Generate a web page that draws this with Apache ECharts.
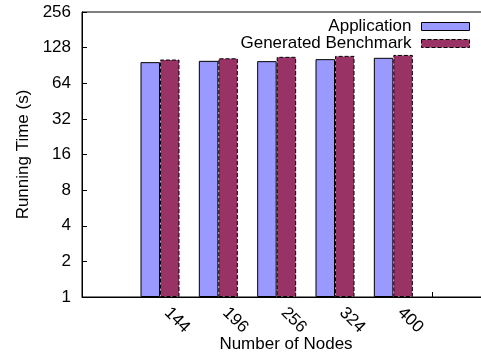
<!DOCTYPE html>
<html>
<head>
<meta charset="utf-8">
<script src="https://cdn.jsdelivr.net/npm/echarts@6/dist/echarts.min.js"></script>
<style>html,body{margin:0;padding:0;background:#fff}#c{width:481px;height:357px}</style>
</head>
<body>
<div id="c"></div>
<script>
var categories = ['144', '196', '256', '324', '400'];
var application = [96.5, 99, 98.4, 102.3, 105];
var generated = [101.5, 104, 107, 109, 111];
var yTicks = [1, 2, 4, 8, 16, 32, 64, 128, 256];

var FONT = 'Liberation Sans, Arial, Helvetica, sans-serif';
var chart = echarts.init(document.getElementById('c'), null, {renderer: 'canvas'});
function toPairs(arr) { return arr.map(function (v, i) { return [i, v]; }); }

chart.setOption({
  animation: false,
  backgroundColor: '#fff',
  textStyle: {fontFamily: FONT, color: '#000'},
  grid: {left: 82, top: 12, width: 408, height: 285, containLabel: false, outerBoundsMode: 'none',
    show: true, borderColor: '#000', borderWidth: 1, backgroundColor: 'transparent'},
  legend: {
    orient: 'vertical', right: 11, top: 18, align: 'right', itemGap: 0, padding: 0,
    itemWidth: 48, itemHeight: 8, icon: 'rect',
    textStyle: {fontFamily: FONT, fontSize: 17, color: '#000', padding: [0, 5, 0, 0]},
    data: [
      {name: 'Application', itemStyle: {color: '#9999ff', borderColor: '#000', borderWidth: 1, borderType: 'solid'}},
      {name: 'Generated Benchmark', itemStyle: {color: '#993366', borderColor: '#000', borderWidth: 1, borderType: 'dashed'}}
    ]
  },
  xAxis: {
    type: 'value', min: -1.337, max: 5.657,
    name: 'Number of Nodes', nameLocation: 'middle', nameGap: 39, nameMoveOverlap: false,
    nameTextStyle: {fontFamily: FONT, fontSize: 17, color: '#000'},
    axisLine: {show: true, onZero: false, lineStyle: {color: '#000', width: 1}},
    axisTick: {show: true, inside: true, length: 5, customValues: [4.668], lineStyle: {color: '#000'}},
    axisLabel: {
      customValues: [0, 1, 2, 3, 4], rotate: -45, margin: 6, padding: [0, 0, 0, 10],
      fontFamily: FONT, fontSize: 17, color: '#000',
      formatter: function (v) { return categories[Math.round(v)]; }
    },
    splitLine: {show: false}
  },
  yAxis: {
    type: 'log', logBase: 2, min: 1, max: 256, interval: 1,
    name: 'Running Time (s)', nameLocation: 'middle', nameGap: 50, nameRotate: 90, nameMoveOverlap: false,
    nameTextStyle: {fontFamily: FONT, fontSize: 17, color: '#000'},
    axisLine: {show: true, onZero: false, lineStyle: {color: '#000', width: 1}},
    axisTick: {show: true, inside: true, length: 5, lineStyle: {color: '#000'}},
    axisLabel: {
      margin: 11, fontFamily: FONT, fontSize: 17, color: '#000',
      formatter: function (v) { return String(Math.round(v)); }
    },
    splitLine: {show: false}
  },
  series: [
    {
      name: 'Application', type: 'bar', barWidth: 19.5, barGap: '0%',
      itemStyle: {color: '#9999ff', borderColor: '#000', borderWidth: 1, borderType: 'solid'},
      data: toPairs(application)
    },
    {
      name: 'Generated Benchmark', type: 'bar', barWidth: 19.5, barGap: '0%',
      itemStyle: {color: '#993366', borderColor: '#000', borderWidth: 1, borderType: 'dashed'},
      data: toPairs(generated)
    }
  ]
});
</script>
</body>
</html>
